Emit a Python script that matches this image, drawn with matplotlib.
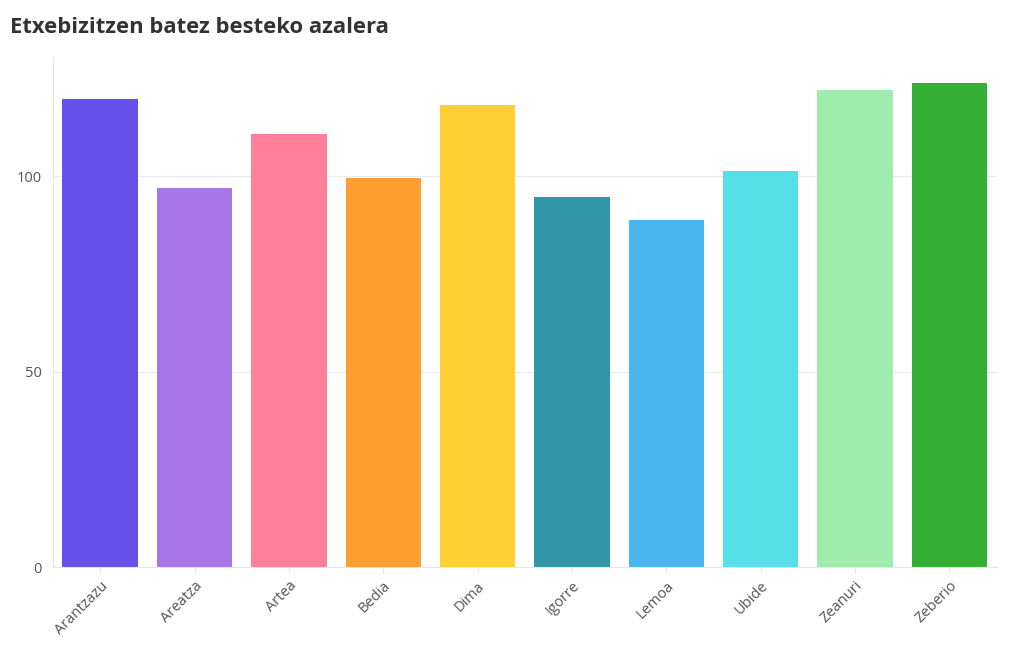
import matplotlib
matplotlib.use("Agg")
import matplotlib.pyplot as plt

# Datuak
herriak = ["Arantzazu", "Areatza", "Artea", "Bedia", "Dima",
           "Igorre", "Lemoa", "Ubide", "Zeanuri", "Zeberio"]
azalera = [119.6, 96.9, 110.8, 99.5, 118.3, 94.8, 88.8, 101.4, 122.0, 123.8]
koloreak = ["#6851EA", "#A777E9", "#FF7F9A", "#FF9F30", "#FFD033",
            "#3196A6", "#48B7F0", "#55E0E8", "#9FEDAD", "#33AF33"]
y_ticks = [0, 50, 100]

plt.rcParams['font.family'] = ['Open Sans', 'DejaVu Sans']

fig = plt.figure(figsize=(10.2, 6.5), dpi=100)
ax = fig.add_axes([0.052, 0.127, 0.925, 0.785])

x = range(len(herriak))
ax.bar(x, azalera, width=0.8, color=koloreak, zorder=2)

ax.set_xlim(-0.5, len(herriak) - 0.5)
ax.set_ylim(0, 130.4)
ax.set_yticks(y_ticks)
ax.set_xticks(list(x))
ax.set_xticklabels(herriak, rotation=45, ha="right", rotation_mode="anchor")

ax.grid(axis="y", color="#ebebeb", linewidth=0.8, zorder=0)
for s in ["top", "right"]:
    ax.spines[s].set_visible(False)
for s in ["left", "bottom"]:
    ax.spines[s].set_color("#e6e6e6")
    ax.spines[s].set_linewidth(0.8)
ax.tick_params(axis="y", length=0, labelsize=10.5, labelcolor="#555555", pad=8)
ax.tick_params(axis="x", length=4, color="#e6e6e6", labelsize=10.5,
               labelcolor="#555555", pad=4)

fig.text(0.010, 0.958, "Etxebizitzen batez besteko azalera", fontsize=15.8,
         fontweight="bold", color="#333333", va="center", ha="left")

fig.savefig("out.png", dpi=100)
